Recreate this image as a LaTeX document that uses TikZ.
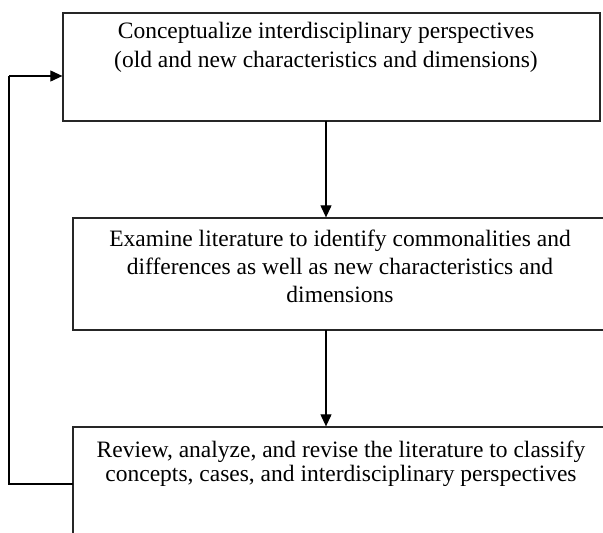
\documentclass[tikz,border=0pt]{standalone}
\usepackage{fontspec}
\setmainfont{Liberation Serif}
\usetikzlibrary{arrows.meta}
\begin{document}
\begin{tikzpicture}[x=1pt,y=-1pt,
  boxnode/.style={draw=black!85,line width=1.3pt,inner sep=0pt,minimum width=#1},
  txt/.style={anchor=base,inner sep=0pt,font=\fontsize{23.5}{28}\selectfont},
  conn/.style={draw=black,line width=1.1pt,-{Triangle[width=11pt,length=12pt]}},
  line/.style={draw=black,line width=1.1pt}]
\useasboundingbox (0,0) rectangle (603,533);
\clip (0,0) rectangle (603,533);
% boxes
\node[boxnode=537pt,minimum height=108pt] (top) at (331.5,67) {};
\node[boxnode=536pt,minimum height=112pt] (mid) at (341,274) {};
\node[boxnode=536pt,minimum height=140pt] (bot) at (341,497) {};
% texts
\node[txt] (t1) at (326,38) {Conceptualize interdisciplinary perspectives};
\node[txt] (t2) at (326,67) {(old and new characteristics and dimensions)};
\node[txt] (m1) at (340,246) {Examine literature to identify commonalities and};
\node[txt] (m2) at (340,274) {differences as well as new characteristics and};
\node[txt] (m3) at (340,302) {dimensions};
\node[txt] (b1) at (341,457) {Review, analyze, and revise the literature to classify};
\node[txt] (b2) at (341,481) {concepts, cases, and interdisciplinary perspectives};
% connectors
\coordinate (a1) at (326,121);
\coordinate (a2) at (326,330);
\draw[conn] (a1) -- (a1 |- mid.north);
\draw[conn] (a2) -- (a2 |- bot.north);
\coordinate (fb) at (73,484);
\coordinate (fl) at (9,484);
\coordinate (ft) at (9,76);
\draw[line] (fb) -- (fl) -- (ft);
\draw[conn] (ft) -- (ft -| top.west);
\end{tikzpicture}
\end{document}
